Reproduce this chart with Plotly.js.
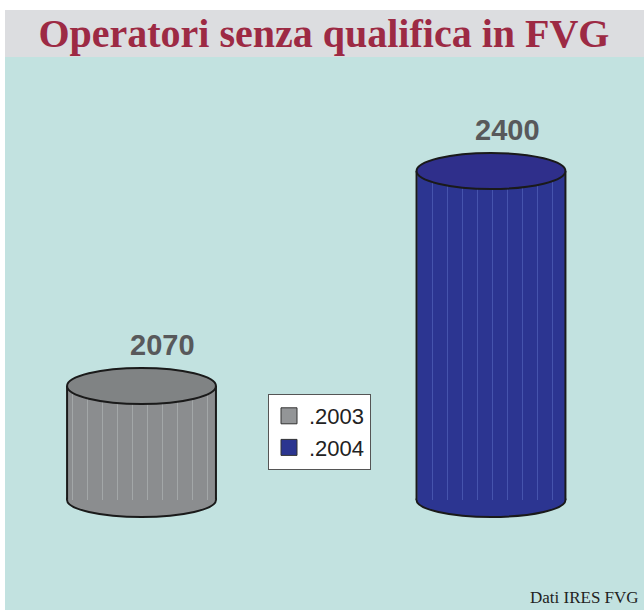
<!DOCTYPE html>
<html><head><meta charset="utf-8">
<script src="https://cdn.plot.ly/plotly-3.0.1.min.js"></script>
<style>html,body{margin:0;padding:0;background:#fff;}#chart{width:644px;height:610px;}</style>
</head><body><div id="chart"></div>
<script>
var categories = ["2003", "2004"];
var seriesNames = [".2003", ".2004"];
var values = [2070, 2400];
var baseValue = 1895;
var bodyColors = ["#8b8d8f", "#2c3591"];
var topColors = ["#808384", "#2f2f8b"];
var stripeColors = ["#a3a7a8", "#4654ad"];
var legendColors = ["#939597", "#2b3590"];

var W = 0.426;
var traces = categories.map(function (c, i) {
  return {
    type: "bar", x: [i], y: [values[i] - baseValue], base: [baseValue],
    width: [W], name: seriesNames[i], showlegend: false,
    marker: { color: bodyColors[i], line: { width: 0 },
      pattern: { shape: "|", fgcolor: stripeColors[i], bgcolor: bodyColors[i], size: 15, solidity: 0.07 } },
    hoverinfo: "skip"
  };
});
categories.forEach(function (c, i) {
  traces.push({ type: "scatter", mode: "markers", x: [null], y: [null], name: seriesNames[i],
    marker: { symbol: "square", size: 16, color: legendColors[i], line: { color: "#333", width: 1 } } });
});

var shapes = [
  { type: "rect", xref: "paper", yref: "paper", x0: 0, x1: 1, y0: 1, y1: 1 + 47 / 553,
    fillcolor: "#dcdde0", line: { width: 0 }, layer: "above" }
];
var annotations = [];
var labelShift = [21, 16];
categories.forEach(function (c, i) {
  var xl = i - W / 2, xr = i + W / 2;
  shapes.push({ type: "circle", xref: "x", yref: "y", ysizemode: "pixel", yanchor: baseValue,
    x0: xl, x1: xr, y0: -17, y1: 17, fillcolor: bodyColors[i], line: { color: "#1a1a1a", width: 2 }, layer: "below" });
  shapes.push({ type: "line", xref: "x", yref: "y", x0: xl, x1: xl, y0: baseValue, y1: values[i],
    line: { color: "#1a1a1a", width: 2 }, layer: "above" });
  shapes.push({ type: "line", xref: "x", yref: "y", x0: xr, x1: xr, y0: baseValue, y1: values[i],
    line: { color: "#1a1a1a", width: 2 }, layer: "above" });
  shapes.push({ type: "circle", xref: "x", yref: "y", ysizemode: "pixel", yanchor: values[i],
    x0: xl, x1: xr, y0: -18, y1: 18, fillcolor: topColors[i], line: { color: "#1a1a1a", width: 2 }, layer: "above" });
  annotations.push({ x: i, y: values[i], xref: "x", yref: "y", text: String(values[i]), showarrow: false,
    yshift: 41, xshift: labelShift[i],
    font: { family: "Liberation Sans, Arial, sans-serif", size: 29, color: "#58595b", weight: "bold" } });
});
annotations.push({ xref: "paper", yref: "paper", x: 1, y: 0, xanchor: "right", yanchor: "bottom",
  xshift: -3, yshift: 1, text: "Dati IRES FVG", showarrow: false,
  font: { family: "Liberation Serif, Times New Roman, serif", size: 17, color: "#222" } });

var layout = {
  width: 644, height: 610,
  margin: { l: 5, r: 0, t: 57, b: 0 },
  paper_bgcolor: "#ffffff", plot_bgcolor: "#c2e2e0",
  title: { text: "<b>Operatori senza qualifica in FVG</b>", xref: "container", x: 0.503, y: 1 - 33 / 610,
    yref: "container", yanchor: "middle",
    font: { family: "Liberation Serif, Times New Roman, serif", size: 40, color: "#9d2a44" } },
  xaxis: { range: [-0.3906, 1.4378], showticklabels: false, showgrid: false, zeroline: false, showline: false, fixedrange: true },
  yaxis: { range: [1726, 2575], showticklabels: false, showgrid: false, zeroline: false, showline: false, fixedrange: true },
  showlegend: true,
  legend: { x: (268 - 5) / 639, y: 1 - (394 - 57) / 553, xanchor: "left", yanchor: "top",
    bgcolor: "#ffffff", bordercolor: "#555", borderwidth: 1, itemwidth: 30,
    font: { family: "Liberation Sans, Arial, sans-serif", size: 22, color: "#222" } },
  shapes: shapes, annotations: annotations,
  bargap: 0
};
Plotly.newPlot("chart", traces, layout, { displayModeBar: false, staticPlot: true });
</script></body></html>
